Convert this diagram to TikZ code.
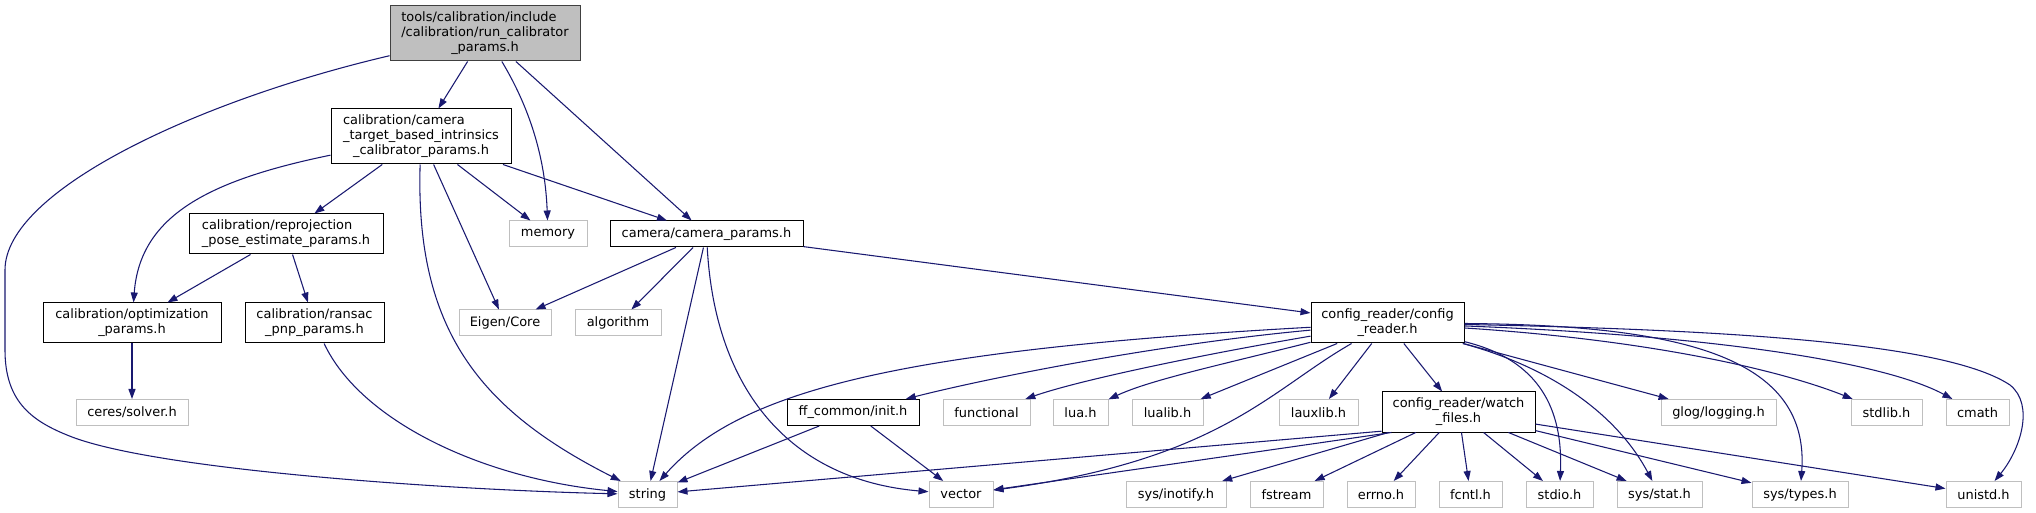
\documentclass[tikz,border=0pt]{standalone}
\usepackage{fontspec}
\setmainfont{DejaVu Sans}
\usepackage{xcolor}
\definecolor{inclEdge}{HTML}{191970}
\definecolor{extBorder}{HTML}{BFBFBF}
\definecolor{rootFill}{HTML}{BFBFBF}
\definecolor{rootBorder}{HTML}{404040}
\usetikzlibrary{arrows.meta}

\tikzset{
  hdrbox/.style={draw=black, fill=white, line width=0.75pt, inner sep=0pt,
    minimum height=19.5pt, font=\fontsize{9.7}{11.25}\selectfont},
  extbox/.style={hdrbox, draw=extBorder},
  rootbox/.style={hdrbox, draw=rootBorder, fill=rootFill},
  twoline/.style={minimum height=30pt},
  threeline/.style={minimum height=41.25pt},
  incl/.style={draw=inclEdge, line width=0.8pt, -{Triangle[length=7.5pt,width=5.25pt]}}
}

\begin{document}
\begin{tikzpicture}[x=0.75pt,y=-0.75pt]
  \useasboundingbox (0,0) rectangle (2036,513);

  % headers of the project
  \node[rootbox, threeline, minimum width=142.5pt] (root) at (485,33.5)
    {\begin{tabular}{@{}l@{}}tools/calibration/include\\/calibration/run\_calibrator\\\multicolumn{1}{@{}c@{}}{\_params.h}\end{tabular}};
  \node[hdrbox, threeline, minimum width=135pt] (camtarget) at (421,136.5)
    {\begin{tabular}{@{}l@{}}calibration/camera\\\_target\_based\_intrinsics\\\multicolumn{1}{@{}c@{}}{\_calibrator\_params.h}\end{tabular}};
  \node[hdrbox, twoline, minimum width=145.5pt] (reproj) at (286,234)
    {\begin{tabular}{@{}l@{}}calibration/reprojection\\\multicolumn{1}{@{}c@{}}{\_pose\_estimate\_params.h}\end{tabular}};
  \node[hdrbox, minimum width=144.75pt] (camparams) at (706.5,234) {camera/camera\_params.h};
  \node[hdrbox, twoline, minimum width=133.5pt] (optim) at (132,323)
    {\begin{tabular}{@{}l@{}}calibration/optimization\\\multicolumn{1}{@{}c@{}}{\_params.h}\end{tabular}};
  \node[hdrbox, twoline, minimum width=104.25pt] (ransac) at (314.5,323)
    {\begin{tabular}{@{}l@{}}calibration/ransac\\\multicolumn{1}{@{}c@{}}{\_pnp\_params.h}\end{tabular}};
  \node[hdrbox, twoline, minimum width=114.75pt] (cr) at (1387.5,323)
    {\begin{tabular}{@{}l@{}}config\_reader/config\\\multicolumn{1}{@{}c@{}}{\_reader.h}\end{tabular}};
  \node[hdrbox, minimum width=99pt] (ffinit) at (853,412.5) {ff\_common/init.h};
  \node[hdrbox, twoline, minimum width=114.75pt] (watch) at (1458.5,412)
    {\begin{tabular}{@{}l@{}}config\_reader/watch\\\multicolumn{1}{@{}c@{}}{\_files.h}\end{tabular}};

  % system and library headers
  \node[extbox, minimum width=58.5pt] (memory) at (548,234) {memory};
  \node[extbox, minimum width=69pt] (eigen) at (505,323) {Eigen/Core};
  \node[extbox, minimum width=64.5pt] (algo) at (618,323) {algorithm};
  \node[extbox, minimum width=84pt] (ceres) at (132,412.5) {ceres/solver.h};
  \node[extbox, minimum width=65.25pt] (functional) at (986.5,412.5) {functional};
  \node[extbox, minimum width=41.25pt] (lua) at (1080.5,412.5) {lua.h};
  \node[extbox, minimum width=53.25pt] (lualib) at (1167.5,412.5) {lualib.h};
  \node[extbox, minimum width=59.25pt] (lauxlib) at (1318.5,412.5) {lauxlib.h};
  \node[extbox, minimum width=86.25pt] (glog) at (1718.5,412.5) {glog/logging.h};
  \node[extbox, minimum width=53.25pt] (stdlib) at (1886.5,412.5) {stdlib.h};
  \node[extbox, minimum width=47.25pt] (cmath) at (1977.5,412.5) {cmath};
  \node[extbox, minimum width=44.25pt] (string) at (647.5,494.5) {string};
  \node[extbox, minimum width=48pt] (vector) at (961,494.5) {vector};
  \node[extbox, minimum width=75pt] (inotify) at (1176,494.5) {sys/inotify.h};
  \node[extbox, minimum width=54.75pt] (fstream) at (1286.5,494.5) {fstream};
  \node[extbox, minimum width=51pt] (errno) at (1381,494.5) {errno.h};
  \node[extbox, minimum width=47.25pt] (fcntl) at (1470.5,494.5) {fcntl.h};
  \node[extbox, minimum width=50.25pt] (stdio) at (1559.5,494.5) {stdio.h};
  \node[extbox, minimum width=63.75pt] (sysstat) at (1659.5,494.5) {sys/stat.h};
  \node[extbox, minimum width=72pt] (systypes) at (1800,494.5) {sys/types.h};
  \node[extbox, minimum width=56.25pt] (unistd) at (1983.5,494.5) {unistd.h};

  % includes of run_calibrator_params.h
  \draw[incl] (root) .. controls (200,100) and (5,190) .. (5,270) -- (5,350)
    .. controls (5,400) and (30,420) .. (67,435) .. controls (150,470) and (450,490) .. (string);
  \draw[incl] (root) -- (camtarget);
  \draw[incl] (root) .. controls (525,100) and (545,150) .. (memory);
  \draw[incl] (root) -- (camparams);

  % includes of camera_target_based_intrinsics_calibrator_params.h
  \draw[incl] (camtarget) .. controls (210,180) and (140,215) .. (optim);
  \draw[incl] (camtarget) -- (reproj);
  \draw[incl] (camtarget) .. controls (415,330) and (480,410) .. (string);
  \draw[incl] (camtarget) -- (eigen);
  \draw[incl] (camtarget) -- (memory);
  \draw[incl] (camtarget) -- (camparams);

  \draw[incl] (reproj) -- (optim);
  \draw[incl] (reproj) -- (ransac);
  \draw[incl] (optim) -- (ceres);
  \draw[incl] (ransac) .. controls (360,420) and (480,478) .. (string);

  % includes of camera_params.h
  \draw[incl] (camparams) -- (eigen);
  \draw[incl] (camparams) -- (algo);
  \draw[incl] (camparams) -- (string);
  \draw[incl] (camparams) .. controls (715,390) and (790,480) .. (vector);
  \draw[incl] (camparams) -- (cr);

  % includes of config_reader.h
  \draw[incl] (cr) .. controls (900,350) and (740,390) .. (string);
  \draw[incl] (cr) .. controls (1150,345) and (980,380) .. (ffinit);
  \draw[incl] (cr) .. controls (1200,355) and (1080,380) .. (functional);
  \draw[incl] (cr) .. controls (1220,365) and (1150,380) .. (lua);
  \draw[incl] (cr) -- (lualib);
  \draw[incl] (cr) .. controls (1270,390) and (1220,460) .. (vector);
  \draw[incl] (cr) -- (lauxlib);
  \draw[incl] (cr) -- (watch);
  \draw[incl] (cr) .. controls (1540,360) and (1563,410) .. (stdio);
  \draw[incl] (cr) .. controls (1560,370) and (1620,420) .. (sysstat);
  \draw[incl] (cr) -- (glog);
  \draw[incl] (cr) .. controls (1690,325) and (1810,360) .. (systypes);
  \draw[incl] (cr) .. controls (1650,340) and (1780,370) .. (stdlib);
  \draw[incl] (cr) .. controls (1700,335) and (1880,360) .. (cmath);
  \draw[incl] (cr) .. controls (1750,330) and (1950,345) .. (2010,385)
    .. controls (2035,405) and (2020,450) .. (unistd);

  % includes of init.h and watch_files.h
  \draw[incl] (ffinit) -- (string);
  \draw[incl] (ffinit) -- (vector);
  \draw[incl] (watch.194) -- (string);
  \draw[incl] (watch.197) -- (vector);
  \foreach \dst in {inotify,fstream,errno,fcntl,stdio,sysstat,systypes,unistd}
    \draw[incl] (watch) -- (\dst);
\end{tikzpicture}
\end{document}
